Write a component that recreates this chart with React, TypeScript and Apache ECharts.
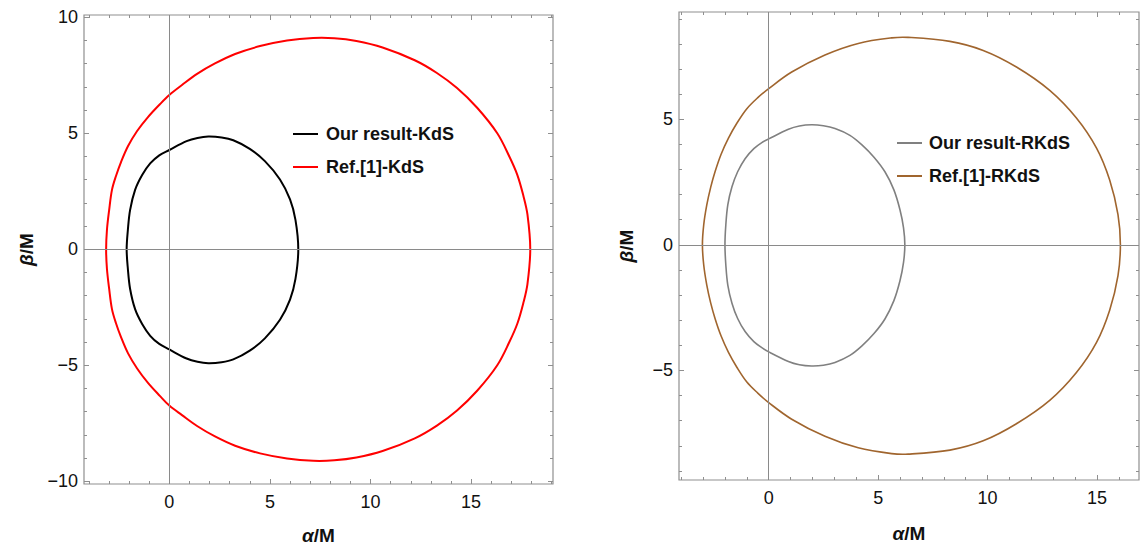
import React, { useEffect, useRef } from 'react';
import * as echarts from 'echarts';

// ---------- Data ----------
const xTickLabels = [0, 5, 10, 15];
const yTickLabelsLeft = [-10, -5, 0, 5, 10];
const yTickLabelsRight = [-5, 0, 5];
const xMinorLeft = [-4, -3, -2, -1, 0, 1, 2, 3, 4, 5, 6, 7, 8, 9, 10, 11, 12, 13, 14, 15, 16, 17, 18, 19];
const yMinorLeft = [-10, -9, -8, -7, -6, -5, -4, -3, -2, -1, 0, 1, 2, 3, 4, 5, 6, 7, 8, 9, 10];
const xMinorRight = [-4, -3, -2, -1, 0, 1, 2, 3, 4, 5, 6, 7, 8, 9, 10, 11, 12, 13, 14, 15, 16];
const yMinorRight = [-9, -8, -7, -6, -5, -4, -3, -2, -1, 0, 1, 2, 3, 4, 5, 6, 7, 8, 9];

const seriesNames = ['Our result-KdS', 'Ref.[1]-KdS', 'Our result-RKdS', 'Ref.[1]-RKdS'];

// KdS, our result (black), [alpha, beta] — closed loop
const kdsOurs: number[][] = [
  [-2.12, 0], [-2.06, 0.83], [-1.95, 1.69], [-1.7, 2.56], [-1.35, 3.2], [-0.95, 3.7], [-0.5, 4.05],
  [0, 4.28], [0.86, 4.66], [1.4, 4.8], [1.94, 4.86], [2.6, 4.82], [3.18, 4.7], [4.0, 4.33],
  [4.75, 3.8], [5.5, 3.01], [6.0, 2.15], [6.27, 1.27], [6.41, 0],
  [6.27, -1.28], [6.0, -2.17], [5.5, -3.04], [4.75, -3.84], [4.0, -4.37], [3.18, -4.75],
  [2.6, -4.87], [1.94, -4.91], [1.4, -4.85], [0.86, -4.71], [0, -4.32], [-0.5, -4.08],
  [-0.95, -3.73], [-1.35, -3.22], [-1.7, -2.58], [-1.95, -1.7], [-2.06, -0.84],
];

// KdS, Ref.[1] (red)
const kdsRef: number[][] = [
  [-3.14, 0], [-3.1, 0.83], [-2.99, 1.69], [-2.85, 2.56], [-2.65, 3.16], [-2.4, 3.76], [-2.05, 4.45],
  [-1.6, 5.1], [-1.06, 5.7], [-0.46, 6.26], [0, 6.65], [0.63, 7.08], [1.38, 7.56], [2.27, 8.01],
  [3.27, 8.42], [4.51, 8.76], [5.85, 9.0], [7.15, 9.11], [8.2, 9.1], [9.3, 8.98], [10.6, 8.7],
  [12.2, 8.15], [13.3, 7.6], [14.3, 6.95], [15.3, 6.1], [16.3, 5.0], [16.9, 4.0], [17.3, 3.2],
  [17.6, 2.3], [17.8, 1.5], [17.94, 0],
  [17.8, -1.5], [17.6, -2.3], [17.3, -3.2], [16.9, -4.0], [16.3, -5.0], [15.3, -6.1], [14.3, -6.95],
  [13.3, -7.6], [12.2, -8.15], [10.6, -8.7], [9.3, -8.98], [8.2, -9.1], [7.15, -9.12], [5.85, -9.02],
  [4.51, -8.8], [3.27, -8.47], [2.27, -8.07], [1.38, -7.62], [0.63, -7.15], [0, -6.74],
  [-0.46, -6.33], [-1.06, -5.76], [-1.6, -5.14], [-2.05, -4.49], [-2.4, -3.79], [-2.65, -3.19],
  [-2.85, -2.58], [-2.99, -1.7], [-3.1, -0.84],
];

// RKdS, our result (gray)
const rkdsOurs: number[][] = [
  [-2.0, 0], [-1.96, 0.8], [-1.87, 1.59], [-1.68, 2.31], [-1.42, 2.91], [-1.08, 3.43], [-0.68, 3.83],
  [-0.3, 4.08], [0, 4.22], [0.9, 4.6], [1.4, 4.73], [1.96, 4.78], [2.5, 4.74], [3.03, 4.63],
  [3.71, 4.36], [4.26, 3.98], [4.81, 3.49], [5.31, 2.91], [5.72, 2.19], [6.0, 1.39], [6.16, 0.68], [6.22, 0],
  [6.16, -0.7], [6.0, -1.42], [5.72, -2.22], [5.31, -2.95], [4.81, -3.53], [4.26, -4.02],
  [3.71, -4.4], [3.03, -4.68], [2.5, -4.79], [1.96, -4.82], [1.4, -4.77], [0.9, -4.64], [0, -4.26],
  [-0.3, -4.1], [-0.68, -3.85], [-1.08, -3.45], [-1.42, -2.93], [-1.68, -2.32], [-1.87, -1.6],
  [-1.96, -0.8],
];

// RKdS, Ref.[1] (brown)
const rkdsRef: number[][] = [
  [-3.03, 0], [-2.97, 0.8], [-2.83, 1.59], [-2.65, 2.3], [-2.45, 2.92], [-2.18, 3.6], [-1.84, 4.25],
  [-1.45, 4.85], [-1.0, 5.42], [-0.5, 5.86], [0, 6.22], [1.05, 6.88], [2.57, 7.56], [4.09, 8.02],
  [5.62, 8.24], [6.37, 8.26], [8.28, 8.1], [9.8, 7.74], [11.32, 7.08], [12.84, 6.15], [14.06, 5.05],
  [14.98, 3.85], [15.58, 2.58], [15.96, 1.2], [16.07, 0],
  [15.96, -1.22], [15.58, -2.6], [14.98, -3.88], [14.06, -5.08], [12.84, -6.19], [11.32, -7.12],
  [9.8, -7.8], [8.28, -8.17], [6.37, -8.33], [5.62, -8.31], [4.09, -8.08], [2.57, -7.62],
  [1.05, -6.94], [0, -6.28], [-0.5, -5.9], [-1.0, -5.46], [-1.45, -4.88], [-1.84, -4.28],
  [-2.18, -3.62], [-2.45, -2.94], [-2.65, -2.32], [-2.83, -1.6], [-2.97, -0.8],
];

// ---------- Styling ----------
const FONT = "'Liberation Sans', Arial, Helvetica, sans-serif";
const FRAME = '#8f8f8f';
const TEXT = '#111111';
const minusFmt = (v: number) => String(v).replace('-', '\u2212');

function axis(
  grid: number,
  position: string,
  min: number,
  max: number,
  ticks: number[],
  len: number,
  labels: boolean,
  isX: boolean,
  name?: string,
  nameGap?: number,
) {
  const a: any = {
    type: 'value',
    gridIndex: grid,
    position,
    min,
    max,
    axisLine: { show: false, onZero: false },
    splitLine: { show: false },
    axisTick: { show: true, inside: true, length: len, customValues: ticks, lineStyle: { color: FRAME, width: 1 } },
    axisLabel: {
      show: labels,
      customValues: ticks,
      formatter: minusFmt,
      color: TEXT,
      fontSize: 18,
      fontFamily: FONT,
      margin: isX ? 9 : 6,
      showMinLabel: true,
      showMaxLabel: true,
    },
  };
  if (name) {
    a.name = name;
    a.nameLocation = 'middle';
    a.nameGap = nameGap;
    if (!isX) a.nameRotate = 90;
    a.nameTextStyle = {
      fontSize: 19,
      fontWeight: 'bold',
      color: TEXT,
      fontFamily: FONT,
      rich: { i: { fontSize: 19, fontWeight: 'bold', fontStyle: 'italic', color: TEXT, fontFamily: FONT } },
    };
  }
  return a;
}

const zeroLines = {
  silent: true,
  symbol: ['none', 'none'],
  label: { show: false },
  lineStyle: { color: '#8a8a8a', width: 1, type: 'solid' },
  data: [{ xAxis: 0 }, { yAxis: 0 }],
};

// Closed smooth curve through the data points, placed by the axes' own scales.
function curve(name: string, data: number[][], color: string, width: number, xi: number, yi: number) {
  return {
    name,
    type: 'custom',
    xAxisIndex: xi,
    yAxisIndex: yi,
    data,
    color,
    itemStyle: { color },
    encode: { x: 0, y: 1 },
    silent: true,
    z: 3,
    renderItem: (params: any, api: any) => {
      if (params.dataIndex !== 0) return null;
      const pts = data.map((p) => api.coord(p));
      return {
        type: 'polygon',
        shape: { points: pts, smooth: 0.35 },
        style: { fill: 'none', stroke: color, lineWidth: width },
      };
    },
  };
}

export default function App() {
  const ref = useRef<HTMLDivElement>(null);

  useEffect(() => {
    if (!ref.current) return;
    const chart = echarts.init(ref.current, undefined, { renderer: 'svg' });

    const L = { xmin: -4.24, xmax: 19.07, ymin: -10.12, ymax: 10.1 };
    const R = { xmin: -4.1, xmax: 16.92, ymin: -9.36, ymax: 9.27 };

    const option: any = {
      animation: false,
      backgroundColor: '#ffffff',
      grid: [
        { left: 84, top: 15, width: 469, height: 469, show: true, borderColor: FRAME, borderWidth: 1.2, backgroundColor: 'transparent', outerBoundsMode: 'none' },
        { left: 679, top: 12, width: 460, height: 468, show: true, borderColor: FRAME, borderWidth: 1.2, backgroundColor: 'transparent', outerBoundsMode: 'none' },
      ],
      xAxis: [
        axis(0, 'bottom', L.xmin, L.xmax, xTickLabels, 5, true, true, '{i|\u03b1}/M', 42),
        axis(0, 'bottom', L.xmin, L.xmax, xMinorLeft, 3, false, true),
        axis(0, 'top', L.xmin, L.xmax, xTickLabels, 5, false, true),
        axis(0, 'top', L.xmin, L.xmax, xMinorLeft, 3, false, true),
        axis(1, 'bottom', R.xmin, R.xmax, xTickLabels, 5, true, true, '{i|\u03b1}/M', 44),
        axis(1, 'bottom', R.xmin, R.xmax, xMinorRight, 3, false, true),
        axis(1, 'top', R.xmin, R.xmax, xTickLabels, 5, false, true),
        axis(1, 'top', R.xmin, R.xmax, xMinorRight, 3, false, true),
      ],
      yAxis: [
        axis(0, 'left', L.ymin, L.ymax, yTickLabelsLeft, 5, true, false, '{i|\u03b2}/M', 48),
        axis(0, 'left', L.ymin, L.ymax, yMinorLeft, 3, false, false),
        axis(0, 'right', L.ymin, L.ymax, yTickLabelsLeft, 5, false, false),
        axis(0, 'right', L.ymin, L.ymax, yMinorLeft, 3, false, false),
        axis(1, 'left', R.ymin, R.ymax, yTickLabelsRight, 5, true, false, '{i|\u03b2}/M', 43),
        axis(1, 'left', R.ymin, R.ymax, yMinorRight, 3, false, false),
        axis(1, 'right', R.ymin, R.ymax, yTickLabelsRight, 5, false, false),
        axis(1, 'right', R.ymin, R.ymax, yMinorRight, 3, false, false),
      ],
      legend: [
        {
          data: [seriesNames[0], seriesNames[1]],
          orient: 'vertical',
          left: 288,
          top: 120,
          itemWidth: 25,
          itemHeight: 2,
          itemGap: 15,
          icon: 'rect',
          selectedMode: false,
          textStyle: { fontSize: 18, fontWeight: 'bold', color: TEXT, fontFamily: FONT, padding: [0, 0, 0, 3] },
        },
        {
          data: [seriesNames[2], seriesNames[3]],
          orient: 'vertical',
          left: 892,
          top: 129,
          itemWidth: 25,
          itemHeight: 2,
          itemGap: 15,
          icon: 'rect',
          selectedMode: false,
          textStyle: { fontSize: 18, fontWeight: 'bold', color: TEXT, fontFamily: FONT, padding: [0, 0, 0, 2] },
        },
      ],
      series: [
        { type: 'line', xAxisIndex: 0, yAxisIndex: 0, data: [], showSymbol: false, markLine: zeroLines, z: 1 },
        { type: 'line', xAxisIndex: 4, yAxisIndex: 4, data: [], showSymbol: false, markLine: zeroLines, z: 1 },
        curve(seriesNames[0], kdsOurs, '#000000', 2, 0, 0),
        curve(seriesNames[1], kdsRef, '#ff0000', 2, 0, 0),
        curve(seriesNames[2], rkdsOurs, '#808080', 1.6, 4, 4),
        curve(seriesNames[3], rkdsRef, '#a0652e', 1.6, 4, 4),
      ],
    };

    chart.setOption(option);
    return () => chart.dispose();
  }, []);

  return (
    <div
      ref={ref}
      style={{ position: 'fixed', left: 0, top: 0, width: 1140, height: 547, background: '#fff' }}
    />
  );
}
